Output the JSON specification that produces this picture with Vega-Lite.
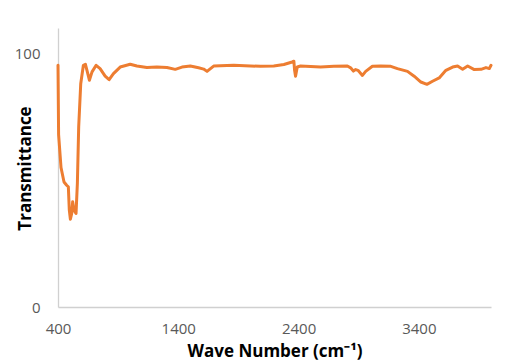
{
  "$schema": "https://vega.github.io/schema/vega-lite/v6.json",
  "autosize": "none",
  "width": 433,
  "height": 279,
  "padding": {"left": 58, "top": 28, "right": 22, "bottom": 54},
  "background": "white",
  "config": {"view": {"stroke": null}, "font": "Open Sans"},
  "data": {"values": [
    {"wn": 400, "t": 95.3}, {"wn": 405, "t": 68}, {"wn": 425, "t": 55}, {"wn": 450, "t": 49.3},
    {"wn": 472, "t": 48}, {"wn": 486, "t": 47.4}, {"wn": 494, "t": 38.2}, {"wn": 503, "t": 34.6},
    {"wn": 514, "t": 36.9}, {"wn": 522, "t": 41.5}, {"wn": 533, "t": 38.2}, {"wn": 550, "t": 36.9},
    {"wn": 561, "t": 48.7}, {"wn": 572, "t": 71}, {"wn": 589, "t": 88}, {"wn": 611, "t": 95.3},
    {"wn": 628, "t": 95.7}, {"wn": 644, "t": 92.7}, {"wn": 661, "t": 89.4}, {"wn": 683, "t": 92.7},
    {"wn": 717, "t": 95.3}, {"wn": 750, "t": 94}, {"wn": 792, "t": 91}, {"wn": 825, "t": 89.6},
    {"wn": 861, "t": 92}, {"wn": 917, "t": 94.6}, {"wn": 1000, "t": 95.7}, {"wn": 1056, "t": 95},
    {"wn": 1139, "t": 94.4}, {"wn": 1222, "t": 94.6}, {"wn": 1306, "t": 94.4}, {"wn": 1375, "t": 93.7},
    {"wn": 1431, "t": 94.6}, {"wn": 1500, "t": 95}, {"wn": 1569, "t": 94.3}, {"wn": 1611, "t": 93.8},
    {"wn": 1639, "t": 92.9}, {"wn": 1694, "t": 95}, {"wn": 1861, "t": 95.3}, {"wn": 2083, "t": 94.9},
    {"wn": 2194, "t": 95}, {"wn": 2278, "t": 95.6}, {"wn": 2347, "t": 96.6}, {"wn": 2361, "t": 96.9},
    {"wn": 2367, "t": 93.3}, {"wn": 2375, "t": 91}, {"wn": 2389, "t": 94.6}, {"wn": 2417, "t": 95},
    {"wn": 2583, "t": 94.6}, {"wn": 2694, "t": 94.9}, {"wn": 2806, "t": 95}, {"wn": 2833, "t": 94.3},
    {"wn": 2856, "t": 93}, {"wn": 2875, "t": 93.6}, {"wn": 2894, "t": 93.3}, {"wn": 2931, "t": 91.3},
    {"wn": 2958, "t": 92.9}, {"wn": 3014, "t": 94.9}, {"wn": 3083, "t": 95}, {"wn": 3167, "t": 94.9},
    {"wn": 3222, "t": 94}, {"wn": 3306, "t": 92.9}, {"wn": 3361, "t": 91}, {"wn": 3417, "t": 88.7},
    {"wn": 3467, "t": 87.8}, {"wn": 3514, "t": 89}, {"wn": 3569, "t": 90.3}, {"wn": 3625, "t": 93.3},
    {"wn": 3681, "t": 94.6}, {"wn": 3722, "t": 95}, {"wn": 3764, "t": 93.7}, {"wn": 3806, "t": 95},
    {"wn": 3861, "t": 93.6}, {"wn": 3917, "t": 93.7}, {"wn": 3958, "t": 94.4}, {"wn": 3986, "t": 94},
    {"wn": 4000, "t": 95.3}
  ]},
  "mark": {"type": "line", "color": "#ED7D31", "strokeWidth": 3, "strokeJoin": "round", "strokeCap": "round"},
  "encoding": {
    "x": {
      "field": "wn", "type": "quantitative",
      "scale": {"domain": [400, 4000], "nice": false, "zero": false},
      "axis": {
        "values": [400, 1400, 2400, 3400], "format": "d", "labelFlush": false, "grid": false, "ticks": false,
        "domainColor": "#D0D0D0", "domainWidth": 1.3,
        "labelColor": "#595959", "labelFontSize": 15, "labelPadding": 14, "labelFont": "Open Sans",
        "title": "Wave Number (cm⁻¹)", "titleFontSize": 17, "titleFontWeight": "bold", "titleColor": "#000000",
        "titleFont": "Open Sans", "titleX": 216.5, "titleY": 44, "titleBaseline": "middle", "titleAlign": "center"
      }
    },
    "y": {
      "field": "t", "type": "quantitative",
      "scale": {"domain": [0, 110], "nice": false},
      "axis": {
        "values": [0, 100], "format": "d", "labelFlush": false, "grid": false, "ticks": false,
        "domainColor": "#D0D0D0", "domainWidth": 1.3,
        "labelColor": "#595959", "labelFontSize": 15, "labelPadding": 18, "labelFont": "Open Sans",
        "title": "Transmittance", "titleFontSize": 17, "titleFontWeight": "bold", "titleColor": "#000000",
        "titleFont": "Open Sans", "titleX": -33, "titleY": 140, "titleBaseline": "middle", "titleAlign": "center", "titleAngle": 270
      }
    }
  }
}
